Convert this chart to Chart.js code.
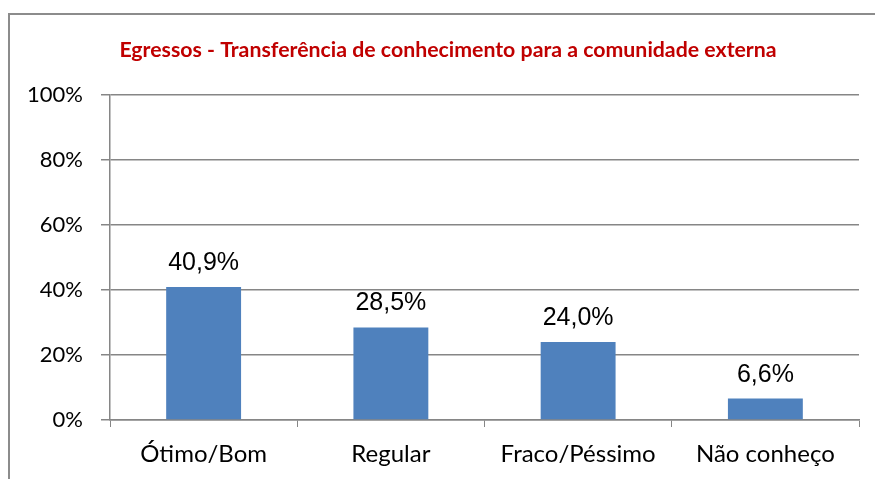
<!DOCTYPE html>
<html>
<head>
<meta charset="utf-8">
<script src="https://cdn.jsdelivr.net/npm/chart.js@4"></script>
<style>
  html, body { margin: 0; padding: 0; background: #fff; }
  #wrap { position: relative; width: 875px; height: 479px; overflow: hidden; }
  #frame { position: absolute; left: 8px; top: 13px; width: 1000px; height: 1000px;
           border-left: 2px solid #8c8c8c; border-top: 2px solid #8c8c8c; }
  canvas { position: absolute; left: 0; top: 0; }
</style>
</head>
<body>
<div id="wrap">
  <div id="frame"></div>
  <canvas id="chart" width="875" height="479"></canvas>
</div>
<script>
var categories = ["Ótimo/Bom", "Regular", "Fraco/Péssimo", "Não conheço"];
var values = [40.9, 28.5, 24.0, 6.6];
var valueLabels = ["40,9%", "28,5%", "24,0%", "6,6%"];
var titleText = "Egressos - Transferência de conhecimento para a comunidade externa";

var gridColor = "#868686";

// writes the value above each bar
var barLabels = {
    id: "barLabels",
    afterDatasetsDraw: function (chart) {
        var ctx = chart.ctx;
        var meta = chart.getDatasetMeta(0);
        ctx.save();
        ctx.font = "25px 'Liberation Sans', Arial, sans-serif";
        ctx.fillStyle = "#000";
        ctx.textAlign = "center";
        ctx.textBaseline = "alphabetic";
        meta.data.forEach(function (bar, i) {
            ctx.fillText(valueLabels[i], bar.x, bar.y - 17);
        });
        ctx.restore();
    }
};

// chart title, placed a bit right of the canvas centre like the original
var chartTitle = {
    id: "chartTitle",
    afterDraw: function (chart) {
        var ctx = chart.ctx;
        ctx.save();
        ctx.font = "bold 21.3px Lato, sans-serif";
        ctx.fillStyle = "#C00000";
        ctx.textAlign = "center";
        ctx.textBaseline = "alphabetic";
        ctx.fillText(titleText, 448, 57);
        ctx.restore();
    }
};

new Chart(document.getElementById("chart"), {
    type: "bar",
    data: {
        labels: categories,
        datasets: [{
            data: values,
            backgroundColor: "#4F81BD",
            borderWidth: 0,
            barPercentage: 0.4,
            categoryPercentage: 1.0
        }]
    },
    options: {
        responsive: false,
        animation: false,
        layout: { padding: { left: 0, right: 16, top: 95, bottom: 0 } },
        plugins: {
            legend: { display: false },
            tooltip: { enabled: false },
            title: { display: false }
        },
        scales: {
            x: {
                grid: {
                    display: true,
                    drawOnChartArea: false,
                    drawTicks: true,
                    tickLength: 7,
                    color: gridColor,
                    lineWidth: 1
                },
                border: { display: true, color: gridColor, width: 1.5 },
                ticks: {
                    color: "#000",
                    font: { family: "Lato", size: 24 },
                    padding: 13,
                    maxRotation: 0
                },
                afterFit: function (scale) { scale.height = 59; }
            },
            y: {
                min: 0,
                max: 100,
                ticks: {
                    stepSize: 20,
                    color: "#000",
                    padding: 18,
                    font: { family: "Lato", size: 22 },
                    callback: function (v) { return v + "%"; }
                },
                grid: {
                    color: gridColor,
                    lineWidth: 1.5,
                    tickLength: 9
                },
                border: { display: true, color: gridColor, width: 1.5 },
                afterFit: function (scale) { scale.width = 110; }
            }
        }
    },
    plugins: [barLabels, chartTitle]
});
</script>
</body>
</html>
